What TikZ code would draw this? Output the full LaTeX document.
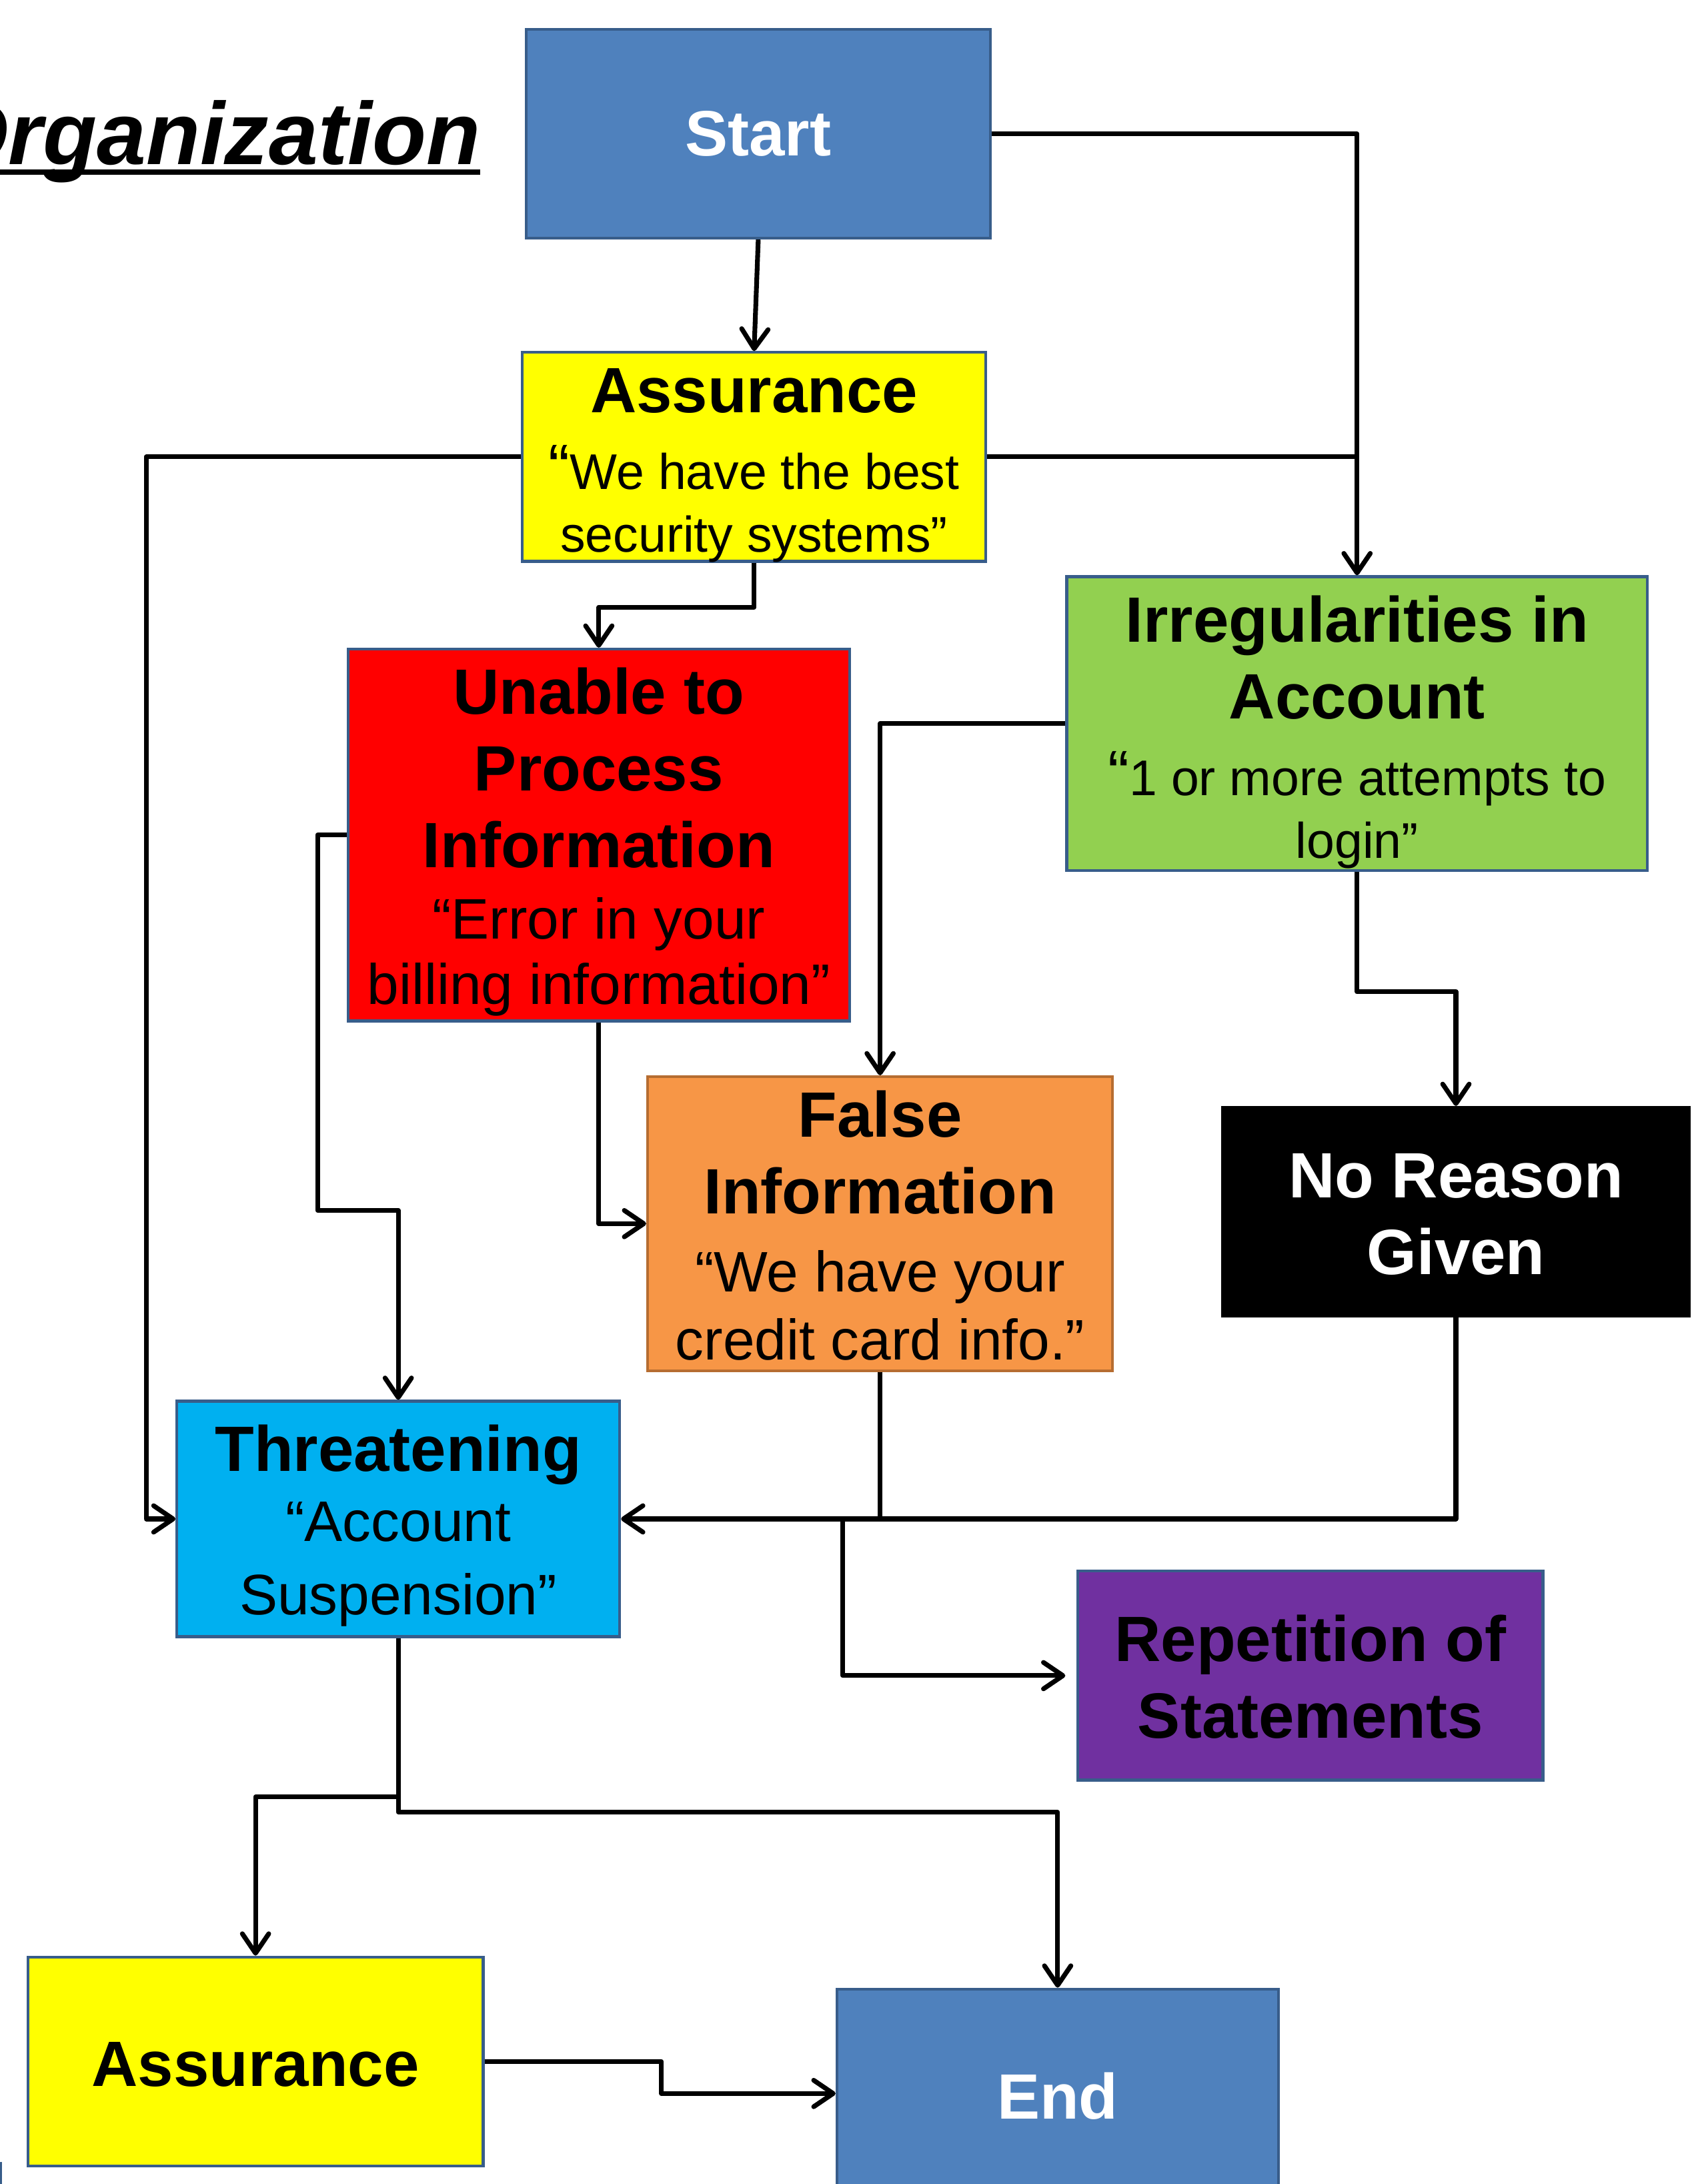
\documentclass[tikz,border=0pt]{standalone}
\usepackage{fontspec}
\setmainfont{Liberation Sans}
\usetikzlibrary{arrows.meta,calc}
\definecolor{boxblue}{HTML}{4F81BD}
\definecolor{bordblue}{HTML}{385D8A}
\definecolor{ylw}{HTML}{FFFF00}
\definecolor{grn}{HTML}{92D050}
\definecolor{rd}{HTML}{FF0000}
\definecolor{orng}{HTML}{F79646}
\definecolor{orngbord}{HTML}{B66D31}
\definecolor{cyn}{HTML}{00B0F0}
\definecolor{prpl}{HTML}{7030A0}
\newcommand\hdfont{\fontsize{46}{55}\selectfont\bfseries}
\newcommand\bdfont[1]{\fontsize{#1}{55}\selectfont\mdseries}
\begin{document}
\begin{tikzpicture}[x=1pt,y=-1pt,
  box/.style={draw=bordblue, line width=2pt, inner sep=0pt},
  txt/.style={inner sep=0pt, align=center, font=\hdfont},
  conn/.style={line width=3.4pt, line join=round},
  arr/.style={conn, -{Straight Barb[length=14pt,width=19pt,round]}}
]
\useasboundingbox (0,0) rectangle (1216,1568);

% title
\node[inner sep=0pt, anchor=base east, font=\fontsize{63.5}{76}\selectfont\bfseries\itshape] (title) at (345,118) {Organization};
\draw[line width=4pt] ([yshift=-5.5pt]title.base west) -- ([yshift=-5.5pt]title.base east);

% boxes
\node[box, fill=boxblue, minimum width=333pt, minimum height=150pt] (start) at (544.5,96) {};
\node[box, fill=ylw, minimum width=333pt, minimum height=150pt] (ass1) at (541.5,328) {};
\node[box, fill=grn, minimum width=417pt, minimum height=211pt] (irr) at (974.5,519.5) {};
\node[box, fill=rd, minimum width=360pt, minimum height=267pt] (unable) at (430,599.5) {};
\node[box, draw=orngbord, fill=orng, minimum width=334pt, minimum height=211pt] (false) at (632,878.5) {};
\node[box, draw=black, fill=black, minimum width=335pt, minimum height=150pt] (noreason) at (1045.5,870) {};
\node[box, fill=cyn, minimum width=318pt, minimum height=169pt] (threat) at (286,1090.5) {};
\node[box, fill=prpl, minimum width=334pt, minimum height=150pt] (rep) at (941,1203) {};
\node[box, fill=ylw, minimum width=327pt, minimum height=150pt] (ass2) at (183.5,1480) {};
\node[box, fill=boxblue, minimum width=317pt, minimum height=150pt] (end) at (759.5,1503) {};

% texts
\node[txt, text=white] (start-t) at (start.center) {Start};
\node[txt] (ass1-t) at ([yshift=-6pt]ass1.center)
  {Assurance\\ {\bdfont{46}“}{\bdfont{36}We have the best}\\[-10pt] {\bdfont{36}security systems”}};
\node[txt] (irr-t) at ([yshift=-6pt]irr.center)
  {Irregularities in\\ Account\\ {\bdfont{46}“}{\bdfont{36}1 or more attempts to}\\[-10pt] {\bdfont{36}login”}};
\node[txt] (unable-t) at ([yshift=-5pt]unable.center)
  {Unable to\\ Process\\ Information\\[-4pt] {\bdfont{41}“Error in your}\\[-8pt] {\bdfont{41}billing information”}};
\node[txt] (false-t) at ([yshift=-1.5pt]false.center)
  {False\\ Information\\[1pt] {\bdfont{41}“We have your}\\[-6pt] {\bdfont{41}credit card info.”}};
\node[txt, text=white] (noreason-t) at ([yshift=-2pt]noreason.center) {No Reason\\ Given};
\node[txt] (threat-t) at ([yshift=-5pt]threat.center)
  {Threatening\\[-5pt] {\bdfont{41}“Account}\\[-2pt] {\bdfont{41}Suspension”}};
\node[txt] (rep-t) at ([yshift=-1pt]rep.center) {Repetition of\\ Statements};
\node[txt] (ass2-t) at ([yshift=-2pt]ass2.center) {Assurance};
\node[txt, text=white] (end-t) at ([yshift=-2pt]end.center) {End};

% fragment of a box at the bottom left edge
\draw[draw=bordblue, line width=1.5pt] (0.7,1552) -- (0.7,1568);

% bend points
\coordinate (c4) at (105,328);
\coordinate (c8) at (228,869);
\coordinate (j12) at (605,1090.5);
\coordinate (c13) at (286,1301);
\coordinate (c14) at (286,1290);

% connectors
\draw[arr] (start.south) -- (ass1.north);
\draw[arr] (start.east) -| (irr.north);
\draw[conn] (ass1.east) -- (ass1.east -| irr.north);
\draw[arr] (ass1.west) -- (c4) |- (threat.west);
\draw[arr] (ass1.south) -- ++(0,32) -| (unable.north);
\draw[arr] (irr.west) -| (false.north);
\draw[arr] (irr.south) -- ++(0,86) -| (noreason.north);
\draw[arr] (unable.west) -| (c8) -| (threat.north);
\draw[arr] (unable.south) |- (false.west);
\draw[conn] (false.south) -- (false.south |- threat.east);
\draw[arr] (noreason.south) |- (threat.east);
\draw[arr, shorten >=8pt] (j12) |- (rep.west);
\draw[arr] (threat.south) -- (c13) -| (end.north);
\draw[arr] (c14) -| (ass2.north);
\draw[arr] (ass2.east) -- ++(127,0) |- (end.west);
\end{tikzpicture}
\end{document}
